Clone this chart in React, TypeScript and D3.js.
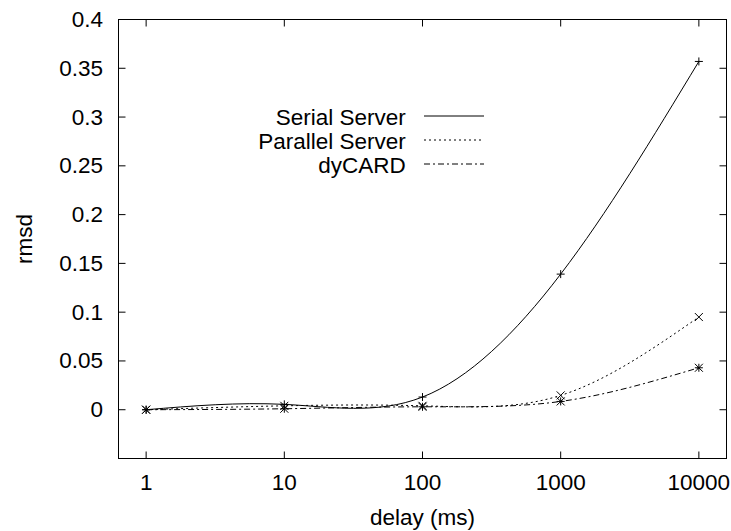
import React, { useEffect, useRef } from 'react';
import * as d3 from 'd3';

// delays (ms) on the log x axis
const delays = [1, 10, 100, 1000, 10000];

const serialServer = [0, 0.0055, 0.013, 0.139, 0.357];
const parallelServer = [0, 0.004, 0.004, 0.0147, 0.095];
const dyCARD = [0, 0.001, 0.003, 0.0085, 0.043];

const seriesNames = ['Serial Server', 'Parallel Server', 'dyCARD'];
const xTicks = [1, 10, 100, 1000, 10000];
const yTicks = [0, 0.05, 0.1, 0.15, 0.2, 0.25, 0.3, 0.35, 0.4];

const App = () => {
  const chartRef = useRef<SVGSVGElement | null>(null);

  useEffect(() => {
    const width = 731;
    const height = 531;
    const left = 118.5;
    const right = 726.5;
    const top = 19.5;
    const bottom = 458.5;
    const font = '"Liberation Sans", Arial, Helvetica, sans-serif';
    const fontSize = 22.5;

    const svg = d3.select(chartRef.current);
    svg.selectAll('*').remove();
    svg.attr('width', width).attr('height', height);

    const x = d3.scaleLog()
      .domain([Math.pow(10, -0.2), Math.pow(10, 4.2)])
      .range([left, right]);

    const y = d3.scaleLinear()
      .domain([-0.05, 0.4])
      .range([bottom, top]);

    const tickLen = 7;
    const g = svg.append('g');

    // ticks (inward, mirrored on top and right)
    xTicks.forEach(t => {
      g.append('line').attr('x1', x(t)).attr('x2', x(t))
        .attr('y1', bottom).attr('y2', bottom - tickLen)
        .attr('stroke', '#000').attr('stroke-width', 1);
      g.append('line').attr('x1', x(t)).attr('x2', x(t))
        .attr('y1', top).attr('y2', top + tickLen)
        .attr('stroke', '#000').attr('stroke-width', 1);
      g.append('text')
        .attr('x', x(t)).attr('y', 482)
        .attr('text-anchor', 'middle')
        .attr('dominant-baseline', 'central')
        .attr('font-family', font).attr('font-size', fontSize)
        .text(String(t));
    });

    yTicks.forEach(t => {
      g.append('line').attr('x1', left).attr('x2', left + tickLen)
        .attr('y1', y(t)).attr('y2', y(t))
        .attr('stroke', '#000').attr('stroke-width', 1);
      g.append('line').attr('x1', right).attr('x2', right - tickLen)
        .attr('y1', y(t)).attr('y2', y(t))
        .attr('stroke', '#000').attr('stroke-width', 1);
      g.append('text')
        .attr('x', 103).attr('y', y(t))
        .attr('text-anchor', 'end')
        .attr('dominant-baseline', 'central')
        .attr('font-family', font).attr('font-size', fontSize)
        .text(String(t));
    });

    // frame
    g.append('rect')
      .attr('x', left).attr('y', top)
      .attr('width', right - left).attr('height', bottom - top)
      .attr('fill', 'none').attr('stroke', '#000').attr('stroke-width', 1);

    // axis titles
    g.append('text')
      .attr('x', (left + right) / 2).attr('y', 517)
      .attr('text-anchor', 'middle')
      .attr('dominant-baseline', 'central')
      .attr('font-family', font).attr('font-size', fontSize)
      .text('delay (ms)');

    g.append('text')
      .attr('transform', `translate(24,${(top + bottom) / 2}) rotate(-90)`)
      .attr('text-anchor', 'middle')
      .attr('dominant-baseline', 'central')
      .attr('font-family', font).attr('font-size', fontSize)
      .text('rmsd');

    const dashes = ['none', '2,3', '6,3,2,3'];
    const allSeries = [serialServer, parallelServer, dyCARD];

    // gnuplot-like cubic splines over log x
    const line = d3.line<number>()
      .x((_, i) => x(delays[i]))
      .y(d => y(d))
      .curve(d3.curveNatural);

    allSeries.forEach((vals, si) => {
      g.append('path')
        .datum(vals)
        .attr('fill', 'none')
        .attr('stroke', '#000')
        .attr('stroke-width', 1)
        .attr('stroke-dasharray', dashes[si])
        .attr('d', line);
    });

    // point markers: +, x, *
    const s = 4;
    const plus = (cx: number, cy: number) => `M${cx - s},${cy}H${cx + s}M${cx},${cy - s}V${cy + s}`;
    const cross = (cx: number, cy: number) =>
      `M${cx - s},${cy - s}L${cx + s},${cy + s}M${cx - s},${cy + s}L${cx + s},${cy - s}`;
    const markers = [
      plus,
      cross,
      (cx: number, cy: number) => plus(cx, cy) + cross(cx, cy),
    ];

    allSeries.forEach((vals, si) => {
      g.append('g').selectAll('path')
        .data(vals)
        .enter()
        .append('path')
        .attr('d', (d, i) => markers[si](x(delays[i]), y(d)))
        .attr('fill', 'none')
        .attr('stroke', '#000')
        .attr('stroke-width', 1);
    });

    // legend
    const legendY = [116, 140, 164];
    seriesNames.forEach((name, i) => {
      g.append('text')
        .attr('x', 405.7).attr('y', legendY[i] + 1)
        .attr('text-anchor', 'end')
        .attr('dominant-baseline', 'central')
        .attr('font-family', font).attr('font-size', fontSize)
        .text(name);
      g.append('line')
        .attr('x1', 424).attr('x2', 484)
        .attr('y1', legendY[i]).attr('y2', legendY[i])
        .attr('stroke', '#000').attr('stroke-width', 1)
        .attr('stroke-dasharray', dashes[i]);
    });
  }, []);

  return (
    <svg ref={chartRef} style={{ position: 'absolute', left: 0, top: 0, background: '#fff' }}></svg>
  );
};

export default App;
